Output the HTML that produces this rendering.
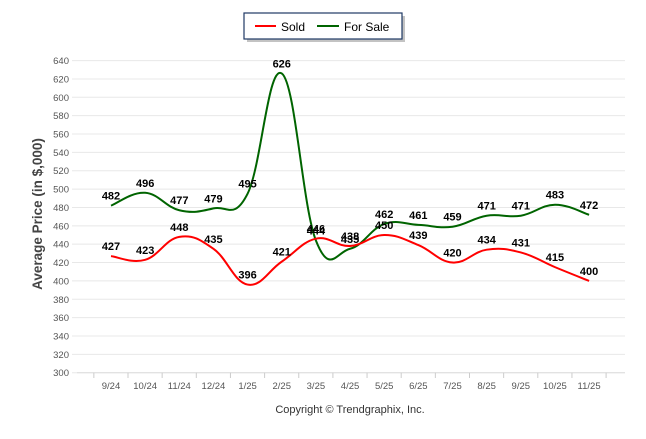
<!DOCTYPE html>
<html><head><meta charset="utf-8"><style>
body{margin:0;background:#fff;font-family:"Liberation Sans",Arial,sans-serif}
svg text{font-family:"Liberation Sans",Arial,sans-serif}
</style></head><body>
<svg width="646" height="434">
<g id="grid"></g><g id="series"></g><g id="labels"></g>
<g>
<rect x="247" y="16" width="158" height="26" fill="#888" opacity="0.5"/>
<rect x="244" y="13" width="158" height="26" fill="#fff" stroke="#1f3864" stroke-width="1.2"/>
<line x1="255" y1="26" x2="276" y2="26" stroke="#f00" stroke-width="2"/>
<text x="281" y="31" font-size="12">Sold</text>
<line x1="317" y1="26" x2="339" y2="26" stroke="#006400" stroke-width="2"/>
<text x="344" y="31" font-size="12">For Sale</text>
</g>
<text x="0" y="0" font-size="13.5" font-weight="bold" fill="#444" transform="translate(42,214) rotate(-90)" text-anchor="middle">Average Price (in $,000)</text>
<text x="350" y="413" font-size="11" fill="#333" text-anchor="middle">Copyright © Trendgraphix, Inc.</text>
</svg>
<script>
const categories=["9/24","10/24","11/24","12/24","1/25","2/25","3/25","4/25","5/25","6/25","7/25","8/25","9/25","10/25","11/25"];
const sold=[427,423,448,435,396,421,446,438,450,439,420,434,431,415,400];
const forSale=[482,496,477,479,495,626,444,435,462,461,459,471,471,483,472];
const yTicks=[300,320,340,360,380,400,420,440,460,480,500,520,540,560,580,600,620,640];
const NS="http://www.w3.org/2000/svg";
const X=i=>111+i*34.15, Y=v=>372.7-(v-300)*0.918;
function mk(t,a,p){const e=document.createElementNS(NS,t);for(const k in a)e.setAttribute(k,a[k]);p.appendChild(e);return e;}
const g=document.getElementById('grid');
yTicks.forEach(v=>{
 const l=mk('line',{x1:72,x2:625,y1:Y(v),y2:Y(v),stroke:'#e8e8e8'},g);
 
 
 const t=mk('text',{x:69,y:Y(v)+3.5,'font-size':'9.5','text-anchor':'end',fill:'#555'},g);t.textContent=v;
 
 
});
mk('line',{x1:77,x2:625,y1:372.7,y2:372.7,stroke:'#ddd'},g);
for(let i=-1;i<categories.length;i++){mk('line',{x1:X(i)+17,x2:X(i)+17,y1:372.7,y2:378,stroke:'#ccc'},g);}
categories.forEach((c,i)=>{const t=mk('text',{x:X(i),y:389,'font-size':'9.5','text-anchor':'middle',fill:'#555'},g);t.textContent=c;
 
 });
function path(vals){const p=vals.map((v,i)=>[X(i),Y(v)]);let d=`M${p[0][0]},${p[0][1]}`;
 for(let i=0;i<p.length-1;i++){const p0=p[i-1]||p[i],p1=p[i],p2=p[i+1],p3=p[i+2]||p2;const k=0.2;
 d+=` C${p1[0]+(p2[0]-p0[0])*k},${p1[1]+(p2[1]-p0[1])*k} ${p2[0]-(p3[0]-p1[0])*k},${p2[1]-(p3[1]-p1[1])*k} ${p2[0]},${p2[1]}`;}return d;}
const s=document.getElementById('series'),L=document.getElementById('labels');
[[forSale,'#006400','for-sale-line'],[sold,'#f00','sold-line']].forEach(([vals,col,n])=>{
 const p=mk('path',{d:path(vals),fill:'none',stroke:col,'stroke-width':2},s);
 
 
 vals.forEach((v,i)=>{const t=mk('text',{x:X(i),y:Y(v)-6,'font-size':'11','font-weight':'bold','text-anchor':'middle',fill:'#000'},L);t.textContent=v;
 
 });
});
</script>
</body></html>
